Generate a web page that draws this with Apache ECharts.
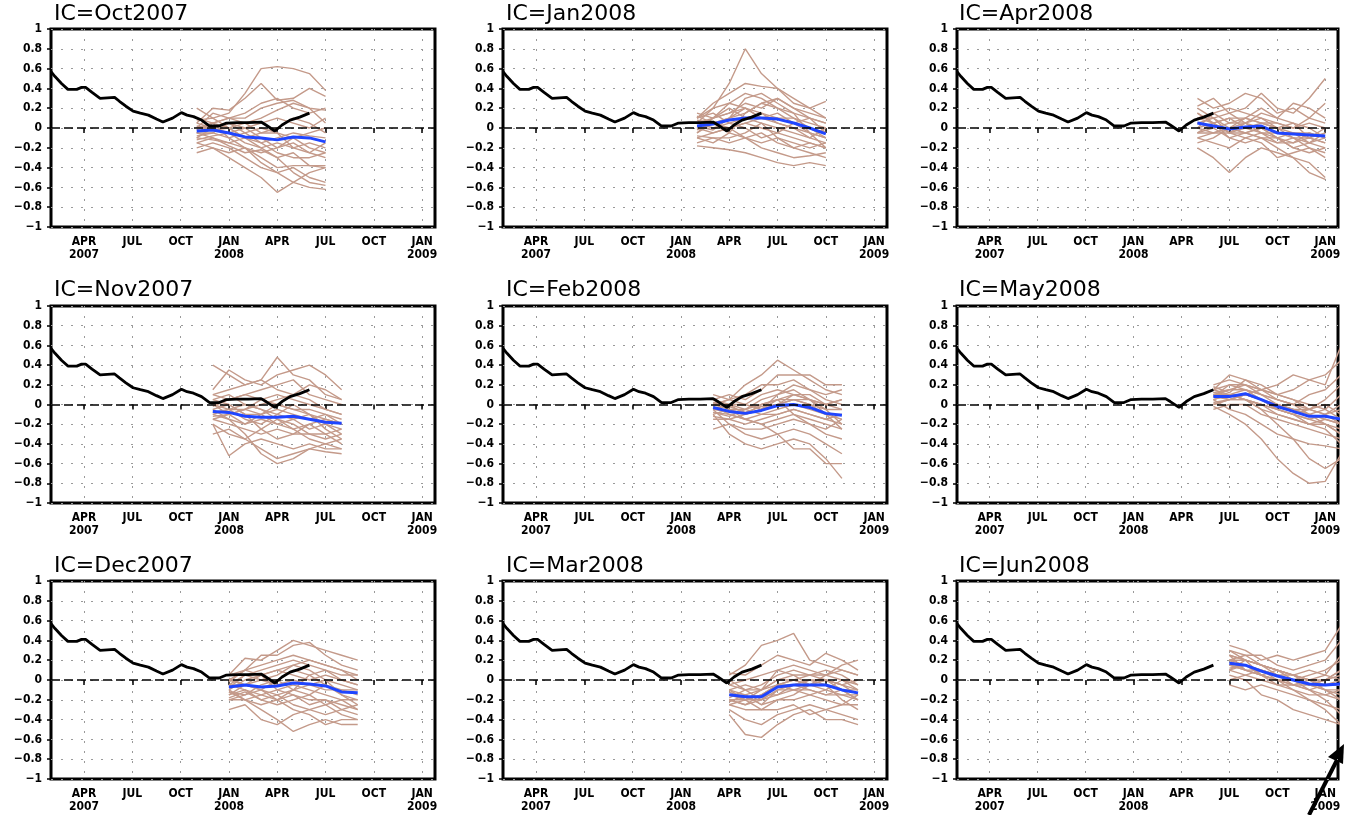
<!DOCTYPE html>
<html>
<head>
<meta charset="utf-8">
<script src="https://cdn.jsdelivr.net/npm/echarts@6/dist/echarts.min.js"></script>
<style>
  html, body { margin: 0; padding: 0; background: #fff; }
  #chart { width: 1345px; height: 815px; }
</style>
</head>
<body>
<div id="chart"></div>
<script>
// month index: 0 = 1 Jan 2007
var xTickMonths = [3, 6, 9, 12, 15, 18, 21, 24]
var xTickLabels = ['APR\n2007', 'JUL', 'OCT', 'JAN\n2008', 'APR', 'JUL', 'OCT', 'JAN\n2009']

// observed index (black)
var obsMonths = [0.95, 1.2, 1.6, 2.0, 2.55, 2.85, 3.1, 3.5, 4.0, 4.9, 5.2, 5.6, 6.05, 6.5, 7.0, 7.5, 7.9, 8.5, 9.05, 9.4, 9.8, 10.3, 10.8, 11.4, 11.85, 12.5, 13.2, 14.0, 14.3, 14.85, 15.3, 15.8, 16.4, 17.0]
var obsValues = [0.57, 0.52, 0.45, 0.39, 0.39, 0.41, 0.41, 0.36, 0.30, 0.31, 0.27, 0.22, 0.17, 0.15, 0.13, 0.09, 0.06, 0.10, 0.155, 0.13, 0.115, 0.08, 0.02, 0.02, 0.05, 0.055, 0.055, 0.06, 0.03, -0.03, 0.03, 0.08, 0.11, 0.15]

// initial conditions, in panel order (column by column)
var icNames = ['Oct2007', 'Nov2007', 'Dec2007', 'Jan2008', 'Feb2008', 'Mar2008', 'Apr2008', 'May2008', 'Jun2008']
var firstLead = [10, 11, 12, 13, 14, 15, 16, 17, 18]

// ensemble means (blue)
var meanOct07 = [-0.03, -0.02, -0.05, -0.09, -0.10, -0.12, -0.09, -0.10, -0.14]
var meanNov07 = [-0.07, -0.08, -0.12, -0.13, -0.13, -0.12, -0.15, -0.18, -0.19]
var meanDec07 = [-0.07, -0.05, -0.07, -0.06, -0.03, -0.04, -0.06, -0.12, -0.13]
var meanJan08 = [0.02, 0.04, 0.08, 0.10, 0.10, 0.09, 0.05, 0.00, -0.06]
var meanFeb08 = [-0.03, -0.07, -0.09, -0.06, -0.01, 0.00, -0.03, -0.09, -0.11]
var meanMar08 = [-0.15, -0.17, -0.17, -0.07, -0.05, -0.05, -0.05, -0.10, -0.13]
var meanApr08 = [0.05, 0.02, -0.01, 0.01, 0.02, -0.05, -0.06, -0.07, -0.08]
var meanMay08 = [0.08, 0.08, 0.11, 0.05, -0.02, -0.07, -0.12, -0.12, -0.15]
var meanJun08 = [0.17, 0.15, 0.09, 0.04, 0.00, -0.04, -0.05, -0.04, -0.03]

// ensemble members (tan)
var ensOct07 = [
  [0.20, 0.10, 0.15, 0.35, 0.60, 0.62, 0.60, 0.55, 0.38],
  [0.05, 0.20, 0.18, 0.30, 0.45, 0.28, 0.30, 0.40, 0.32],
  [0.00, 0.15, 0.10, 0.10, 0.20, 0.25, 0.28, 0.20, 0.18],
  [-0.05, 0.05, 0.10, 0.05, 0.10, 0.18, 0.25, 0.20, 0.05],
  [0.02, -0.02, 0.00, 0.05, -0.05, 0.00, 0.10, 0.05, -0.05],
  [-0.08, -0.05, -0.10, -0.05, -0.15, -0.10, -0.05, -0.08, -0.10],
  [-0.10, 0.00, -0.05, -0.15, -0.20, -0.15, -0.20, -0.15, -0.20],
  [-0.15, -0.10, -0.18, -0.25, -0.22, -0.30, -0.25, -0.38, -0.38],
  [-0.05, -0.10, -0.15, -0.20, -0.30, -0.40, -0.38, -0.38, -0.40],
  [-0.20, -0.15, -0.20, -0.30, -0.40, -0.45, -0.40, -0.50, -0.55],
  [-0.25, -0.20, -0.30, -0.40, -0.50, -0.65, -0.55, -0.60, -0.62],
  [0.08, 0.10, 0.00, -0.10, -0.20, -0.30, -0.45, -0.55, -0.58],
  [-0.12, -0.08, -0.05, 0.00, -0.10, -0.20, -0.15, -0.25, -0.30],
  [0.00, 0.05, -0.10, -0.20, -0.35, -0.45, -0.55, -0.45, -0.40],
  [-0.10, -0.12, -0.15, -0.10, -0.05, -0.05, -0.10, -0.20, -0.25],
  [0.05, 0.00, 0.05, 0.00, 0.05, 0.10, 0.05, 0.00, 0.10],
  [-0.02, 0.05, 0.00, -0.10, -0.15, -0.25, -0.30, -0.30, -0.25],
  [-0.15, -0.20, -0.25, -0.20, -0.25, -0.20, -0.10, -0.05, 0.00],
  [0.10, 0.05, 0.10, 0.15, 0.25, 0.30, 0.20, 0.15, 0.20],
  [-0.05, -0.05, 0.05, -0.05, 0.00, -0.05, -0.20, -0.25, -0.15]
]
var ensNov07 = [
  [0.40, 0.30, 0.20, 0.25, 0.48, 0.30, 0.25, 0.10, 0.05],
  [0.15, 0.35, 0.25, 0.20, 0.30, 0.35, 0.40, 0.30, 0.15],
  [0.10, 0.05, 0.10, 0.15, 0.20, 0.25, 0.10, 0.05, 0.00],
  [0.00, -0.05, -0.05, 0.05, 0.10, 0.05, 0.00, -0.05, -0.10],
  [-0.05, 0.00, -0.10, -0.10, -0.05, -0.10, -0.15, -0.10, -0.20],
  [-0.10, -0.15, -0.20, -0.15, -0.20, -0.15, -0.25, -0.20, -0.25],
  [-0.15, -0.20, -0.25, -0.30, -0.25, -0.30, -0.30, -0.35, -0.30],
  [-0.20, -0.52, -0.40, -0.35, -0.40, -0.45, -0.40, -0.45, -0.45],
  [-0.30, -0.25, -0.35, -0.45, -0.55, -0.50, -0.45, -0.48, -0.50],
  [-0.05, -0.15, -0.30, -0.50, -0.60, -0.55, -0.45, -0.40, -0.45],
  [0.05, 0.10, 0.00, -0.05, -0.15, -0.25, -0.35, -0.40, -0.35],
  [-0.12, -0.10, -0.05, 0.00, 0.05, 0.10, 0.05, -0.05, -0.10],
  [-0.08, -0.05, -0.15, -0.20, -0.10, 0.00, -0.10, -0.25, -0.35],
  [0.05, 0.00, -0.10, -0.25, -0.35, -0.30, -0.20, -0.15, -0.20],
  [-0.02, 0.05, 0.10, 0.05, 0.00, -0.05, -0.10, -0.15, -0.20],
  [-0.15, -0.10, -0.05, -0.10, -0.20, -0.25, -0.20, -0.30, -0.40],
  [0.10, 0.15, 0.20, 0.25, 0.15, 0.10, 0.20, 0.15, 0.05],
  [-0.20, -0.30, -0.35, -0.25, -0.15, -0.20, -0.30, -0.30, -0.25],
  [0.00, -0.10, -0.20, -0.10, 0.00, -0.05, -0.05, -0.10, -0.15],
  [-0.10, -0.05, 0.00, -0.05, -0.10, -0.15, -0.10, -0.20, -0.30]
]
var ensDec07 = [
  [0.05, 0.22, 0.20, 0.30, 0.40, 0.35, 0.30, 0.25, 0.20],
  [0.00, 0.10, 0.25, 0.25, 0.35, 0.38, 0.25, 0.15, 0.10],
  [-0.05, 0.05, 0.10, 0.15, 0.20, 0.15, 0.10, 0.05, 0.05],
  [-0.10, 0.00, 0.05, 0.10, 0.05, 0.00, 0.05, 0.00, -0.05],
  [-0.05, -0.05, 0.00, -0.05, 0.00, -0.05, -0.10, -0.10, -0.10],
  [-0.15, -0.10, -0.15, -0.10, -0.05, -0.10, -0.15, -0.20, -0.20],
  [-0.20, -0.20, -0.25, -0.20, -0.15, -0.20, -0.20, -0.25, -0.30],
  [-0.30, -0.25, -0.40, -0.45, -0.35, -0.30, -0.35, -0.30, -0.35],
  [-0.10, -0.20, -0.30, -0.40, -0.52, -0.45, -0.40, -0.45, -0.45],
  [0.02, -0.05, -0.10, -0.20, -0.30, -0.35, -0.45, -0.40, -0.40],
  [-0.08, 0.05, 0.00, 0.05, 0.15, 0.10, 0.00, -0.15, -0.25],
  [-0.12, -0.15, -0.05, 0.00, -0.10, 0.05, 0.10, 0.00, -0.05],
  [-0.02, 0.10, 0.05, -0.10, -0.15, -0.25, -0.20, -0.30, -0.25],
  [-0.18, -0.12, -0.20, -0.25, -0.20, -0.15, -0.05, -0.15, -0.20],
  [0.00, -0.05, -0.10, -0.15, -0.10, -0.05, 0.00, -0.05, -0.10],
  [-0.15, -0.05, 0.05, 0.10, 0.15, 0.20, 0.15, 0.10, 0.00],
  [-0.05, -0.10, -0.20, -0.15, -0.25, -0.30, -0.25, -0.20, -0.30],
  [-0.20, -0.15, -0.10, 0.00, 0.10, 0.05, -0.05, -0.10, -0.15],
  [0.05, 0.10, 0.15, 0.20, 0.25, 0.20, 0.15, 0.10, 0.05],
  [-0.12, -0.20, -0.15, -0.20, -0.10, -0.15, -0.25, -0.35, -0.40]
]
var ensJan08 = [
  [0.05, 0.20, 0.45, 0.80, 0.55, 0.40, 0.30, 0.20, 0.10],
  [0.10, 0.25, 0.35, 0.45, 0.42, 0.40, 0.25, 0.20, 0.27],
  [0.15, 0.10, 0.25, 0.35, 0.30, 0.20, 0.15, 0.10, 0.05],
  [0.00, 0.10, 0.15, 0.25, 0.20, 0.30, 0.20, 0.15, 0.10],
  [-0.05, 0.05, 0.10, 0.20, 0.10, 0.15, 0.05, 0.00, -0.05],
  [0.05, 0.00, 0.05, 0.10, 0.15, 0.05, 0.00, -0.05, -0.10],
  [-0.10, -0.05, 0.00, 0.05, 0.00, -0.05, -0.10, -0.15, -0.20],
  [-0.15, -0.10, -0.15, -0.10, -0.05, -0.15, -0.20, -0.25, -0.30],
  [-0.18, -0.20, -0.22, -0.25, -0.30, -0.35, -0.38, -0.35, -0.38],
  [0.08, 0.05, -0.05, -0.10, -0.20, -0.25, -0.30, -0.28, -0.25],
  [-0.05, 0.10, 0.20, 0.10, 0.05, -0.10, -0.15, -0.20, -0.15],
  [0.10, 0.15, 0.05, 0.00, -0.10, -0.05, 0.05, 0.10, 0.05],
  [-0.10, -0.15, -0.05, 0.15, 0.25, 0.20, 0.10, 0.00, -0.10],
  [0.02, -0.02, 0.10, 0.30, 0.35, 0.25, 0.15, -0.05, -0.20],
  [0.00, -0.05, 0.00, 0.05, 0.10, 0.10, 0.05, -0.05, -0.10],
  [0.05, 0.10, 0.15, 0.20, 0.15, 0.10, 0.10, 0.05, 0.00],
  [-0.08, -0.10, -0.10, -0.05, 0.05, 0.00, -0.05, -0.10, -0.15],
  [0.12, 0.05, 0.10, 0.15, 0.25, 0.30, 0.20, 0.10, -0.05],
  [-0.02, 0.05, 0.00, -0.10, -0.15, -0.10, -0.20, -0.15, -0.20],
  [0.10, 0.20, 0.25, 0.20, 0.10, 0.05, 0.00, -0.10, 0.00]
]
var ensFeb08 = [
  [0.10, 0.05, 0.20, 0.30, 0.45, 0.35, 0.25, 0.15, 0.10],
  [0.05, 0.10, 0.05, 0.15, 0.30, 0.30, 0.30, 0.20, 0.20],
  [0.00, 0.05, 0.10, 0.20, 0.20, 0.25, 0.15, 0.10, 0.15],
  [-0.05, 0.00, 0.00, 0.10, 0.15, 0.10, 0.05, 0.00, 0.05],
  [-0.10, -0.05, -0.10, 0.00, 0.05, 0.05, 0.00, -0.05, -0.05],
  [-0.02, -0.10, -0.15, -0.10, -0.05, 0.00, -0.05, -0.10, -0.10],
  [-0.15, -0.15, -0.20, -0.15, -0.10, -0.05, -0.10, -0.15, -0.20],
  [-0.05, -0.20, -0.25, -0.25, -0.20, -0.15, -0.20, -0.25, -0.15],
  [-0.25, -0.20, -0.30, -0.35, -0.30, -0.25, -0.30, -0.40, -0.50],
  [-0.10, -0.30, -0.40, -0.45, -0.40, -0.35, -0.40, -0.55, -0.75],
  [0.05, -0.05, -0.15, -0.20, -0.30, -0.45, -0.45, -0.60, -0.60],
  [0.00, 0.05, 0.00, -0.05, 0.10, 0.20, 0.15, 0.05, 0.00],
  [-0.08, -0.12, -0.05, 0.00, 0.05, -0.10, -0.20, -0.30, -0.35],
  [0.02, 0.00, -0.10, -0.05, 0.00, 0.10, 0.05, -0.05, -0.20],
  [-0.05, -0.08, -0.10, -0.05, 0.00, 0.05, 0.00, -0.10, -0.15],
  [0.00, -0.05, -0.05, -0.10, -0.10, -0.05, -0.10, -0.15, -0.10],
  [-0.12, -0.15, -0.10, -0.05, 0.05, 0.10, 0.10, 0.00, -0.05],
  [0.05, 0.00, -0.05, 0.05, 0.10, 0.15, 0.05, -0.10, -0.25],
  [-0.08, -0.10, -0.15, -0.20, -0.15, -0.10, -0.15, -0.20, -0.25],
  [0.00, -0.02, -0.08, -0.02, 0.00, 0.05, 0.05, 0.00, 0.05]
]
var ensMar08 = [
  [0.05, 0.15, 0.35, 0.40, 0.47, 0.20, 0.15, 0.10, 0.05],
  [0.07, 0.05, 0.15, 0.25, 0.20, 0.15, 0.27, 0.20, 0.10],
  [-0.05, 0.00, 0.05, 0.10, 0.15, 0.10, 0.05, 0.15, 0.20],
  [-0.10, -0.05, -0.10, 0.00, 0.05, 0.05, 0.00, -0.05, 0.00],
  [-0.15, -0.20, -0.15, -0.05, 0.00, -0.05, -0.05, -0.10, -0.10],
  [-0.20, -0.25, -0.20, -0.15, -0.10, -0.10, -0.15, -0.15, -0.20],
  [-0.25, -0.30, -0.30, -0.20, -0.20, -0.15, -0.20, -0.25, -0.25],
  [-0.30, -0.40, -0.45, -0.35, -0.30, -0.25, -0.30, -0.35, -0.40],
  [-0.35, -0.55, -0.58, -0.45, -0.35, -0.30, -0.40, -0.40, -0.45],
  [-0.10, -0.20, -0.30, -0.30, -0.25, -0.35, -0.30, -0.25, -0.15],
  [-0.18, -0.10, -0.05, 0.05, 0.10, 0.05, 0.10, 0.05, -0.05],
  [-0.22, -0.15, -0.25, -0.10, -0.05, 0.00, -0.05, -0.20, -0.30],
  [0.00, -0.10, -0.20, -0.05, -0.10, -0.15, -0.10, 0.00, -0.10],
  [-0.12, -0.20, -0.10, 0.10, 0.05, -0.05, 0.00, -0.10, -0.20],
  [-0.15, -0.15, -0.10, -0.05, -0.05, 0.00, 0.00, -0.05, -0.10],
  [-0.20, -0.20, -0.20, -0.10, -0.10, -0.05, -0.10, -0.15, -0.15],
  [-0.05, -0.10, -0.10, 0.00, 0.00, -0.05, 0.05, 0.00, -0.05],
  [-0.25, -0.20, -0.15, -0.15, -0.05, -0.10, -0.15, -0.10, -0.20],
  [-0.10, -0.15, -0.25, -0.20, -0.15, -0.05, 0.00, -0.05, -0.15],
  [-0.20, -0.25, -0.15, -0.05, 0.00, 0.05, 0.05, 0.10, 0.05]
]
var ensApr08 = [
  [0.22, 0.30, 0.15, 0.20, 0.35, 0.20, 0.15, 0.30, 0.50],
  [0.30, 0.20, 0.25, 0.35, 0.30, 0.15, 0.20, 0.10, 0.25],
  [0.10, 0.15, 0.05, 0.10, 0.20, 0.10, 0.25, 0.20, 0.10],
  [0.05, 0.10, 0.15, 0.05, 0.10, 0.05, 0.00, 0.10, 0.05],
  [0.00, -0.05, 0.00, 0.10, 0.05, 0.00, -0.05, -0.10, -0.15],
  [-0.05, 0.00, -0.10, -0.05, 0.00, -0.10, -0.15, -0.05, -0.10],
  [-0.10, -0.15, -0.20, -0.10, -0.05, -0.10, -0.20, -0.25, -0.20],
  [-0.20, -0.30, -0.45, -0.30, -0.20, -0.25, -0.30, -0.35, -0.50],
  [0.15, 0.05, -0.10, -0.15, -0.10, -0.20, -0.30, -0.45, -0.52],
  [-0.15, -0.10, 0.00, 0.05, -0.05, -0.15, -0.10, -0.20, -0.25],
  [0.10, 0.05, 0.10, 0.00, -0.05, -0.05, -0.10, -0.15, -0.05],
  [-0.05, 0.05, -0.05, -0.10, -0.15, -0.30, -0.25, -0.20, -0.30],
  [0.20, 0.10, -0.05, 0.05, 0.15, 0.10, 0.05, 0.00, -0.10],
  [0.00, 0.15, 0.20, 0.15, 0.10, 0.00, 0.05, -0.10, 0.00],
  [0.05, 0.00, 0.05, 0.05, 0.00, -0.05, -0.05, -0.05, -0.10],
  [-0.05, -0.05, -0.05, 0.00, 0.05, 0.00, -0.10, -0.10, -0.05],
  [0.10, 0.10, 0.00, -0.05, 0.00, -0.10, -0.05, -0.15, -0.20],
  [0.00, 0.05, 0.10, 0.10, 0.05, 0.05, 0.00, 0.05, 0.00],
  [0.15, 0.05, -0.05, -0.05, -0.10, -0.15, -0.15, -0.10, -0.15],
  [-0.10, -0.05, 0.00, -0.05, -0.10, -0.10, -0.20, -0.15, -0.10]
]
var ensMay08 = [
  [0.20, 0.25, 0.20, 0.15, 0.20, 0.30, 0.25, 0.20, 0.60],
  [0.15, 0.30, 0.25, 0.20, 0.10, 0.15, 0.25, 0.30, 0.45],
  [0.10, 0.15, 0.20, 0.10, 0.05, 0.00, 0.10, 0.15, 0.30],
  [0.05, 0.10, 0.15, 0.10, 0.00, -0.05, -0.05, 0.05, 0.20],
  [0.10, 0.05, 0.10, 0.05, -0.05, -0.10, -0.15, -0.10, 0.00],
  [0.00, 0.05, 0.05, 0.00, -0.10, -0.15, -0.20, -0.15, -0.20],
  [-0.05, 0.00, 0.00, -0.10, -0.15, -0.20, -0.25, -0.30, -0.35],
  [0.05, -0.05, -0.10, -0.20, -0.30, -0.35, -0.40, -0.42, -0.45],
  [-0.02, -0.10, -0.20, -0.35, -0.55, -0.70, -0.80, -0.78, -0.50],
  [0.12, 0.10, 0.05, -0.05, -0.20, -0.35, -0.55, -0.65, -0.55],
  [0.08, 0.20, 0.15, 0.05, -0.05, -0.10, -0.05, 0.00, -0.10],
  [0.15, 0.10, 0.05, 0.00, -0.05, -0.10, -0.20, -0.25, -0.40],
  [0.00, 0.05, 0.10, 0.15, 0.05, 0.00, -0.10, -0.20, -0.30],
  [0.18, 0.12, 0.25, 0.15, 0.10, 0.05, 0.00, -0.05, 0.10],
  [0.10, 0.10, 0.10, 0.05, 0.00, -0.05, -0.10, -0.15, -0.20],
  [0.05, 0.10, 0.05, 0.00, -0.05, -0.10, -0.15, -0.20, -0.25],
  [0.12, 0.15, 0.15, 0.10, 0.05, 0.00, -0.05, -0.10, -0.05],
  [0.02, 0.05, 0.10, 0.05, 0.00, -0.05, -0.10, -0.05, -0.15],
  [0.08, 0.05, 0.05, -0.05, -0.10, -0.15, -0.20, -0.20, -0.30],
  [0.15, 0.20, 0.20, 0.15, 0.10, 0.05, -0.05, -0.10, -0.20]
]
var ensJun08 = [
  [0.35, 0.30, 0.20, 0.25, 0.20, 0.25, 0.30, 0.55, 0.60],
  [0.30, 0.25, 0.25, 0.15, 0.10, 0.15, 0.20, 0.40, 0.50],
  [0.25, 0.20, 0.15, 0.10, 0.05, 0.10, 0.05, 0.25, 0.30],
  [0.20, 0.15, 0.10, 0.05, 0.00, -0.05, 0.00, 0.10, 0.20],
  [0.15, 0.10, 0.05, 0.00, -0.05, -0.10, -0.05, -0.05, 0.00],
  [0.10, 0.05, 0.00, -0.05, -0.10, -0.15, -0.15, -0.10, -0.15],
  [-0.05, -0.10, -0.05, -0.10, -0.15, -0.20, -0.25, -0.30, -0.30],
  [0.05, 0.00, -0.15, -0.20, -0.30, -0.35, -0.40, -0.45, -0.50],
  [0.12, 0.15, 0.10, 0.00, -0.10, -0.20, -0.30, -0.45, -0.45],
  [0.20, 0.25, 0.15, 0.10, 0.05, 0.00, -0.10, -0.20, -0.25],
  [0.00, 0.05, 0.10, 0.05, 0.00, 0.05, 0.10, 0.20, 0.35],
  [0.25, 0.10, 0.05, 0.10, 0.05, -0.05, -0.10, -0.15, -0.10],
  [0.10, 0.20, 0.15, 0.05, -0.05, 0.00, 0.05, 0.00, 0.10],
  [0.30, 0.20, 0.05, -0.05, -0.05, -0.10, -0.20, -0.35, -0.40],
  [0.15, 0.15, 0.10, 0.05, 0.00, -0.05, -0.05, -0.05, -0.05],
  [0.20, 0.10, 0.10, 0.05, 0.05, 0.00, -0.05, 0.00, 0.05],
  [0.10, 0.15, 0.05, 0.00, -0.05, -0.05, -0.10, -0.10, -0.20],
  [0.25, 0.20, 0.15, 0.10, 0.05, 0.00, 0.00, 0.05, 0.15],
  [0.15, 0.10, 0.05, 0.00, 0.00, -0.10, -0.15, -0.20, -0.30],
  [0.20, 0.20, 0.15, 0.10, 0.00, -0.05, 0.00, 0.10, 0.00]
]

var means = [meanOct07, meanNov07, meanDec07, meanJan08, meanFeb08, meanMar08, meanApr08, meanMay08, meanJun08]
var members = [ensOct07, ensNov07, ensDec07, ensJan08, ensFeb08, ensMar08, ensApr08, ensMay08, ensJun08]

// layout of the 3x3 panels
var colLeft = [51, 503, 957]
var colWidth = [384, 384, 381]
var rowTop = [29, 306, 581]
var rowHeight = [198, 197, 198]
var titleLeft = [54, 506, 959]
var titleTop = [3, 279, 555]

var tan = '#c49a8a'
var blue = '#1f45ff'
var axisFont = 'DejaVu Sans Condensed, Liberation Sans Narrow, DejaVu Sans, sans-serif'

function lead(start, arr) {
  return arr.map(function (v, k) { return [start + k, v] })
}

var chart = echarts.init(document.getElementById('chart'))
var grids = [], xAxes = [], yAxes = [], titles = [], series = []

icNames.forEach(function (ic, i) {
  var col = Math.floor(i / 3), row = i % 3
  grids.push({
    left: colLeft[col], top: rowTop[row], width: colWidth[col], height: rowHeight[row],
    show: true, borderColor: '#000', borderWidth: 3, backgroundColor: '#fff'
  })
  titles.push({
    text: 'IC=' + ic, left: titleLeft[col], top: titleTop[row], padding: 0,
    textStyle: { fontFamily: 'DejaVu Sans', fontSize: 22, fontWeight: 'normal', color: '#000' }
  })
  xAxes.push({
    type: 'value', gridIndex: i, min: 0.95, max: 24.8,
    axisLine: { show: false },
    axisTick: { show: true, customValues: xTickMonths, length: 5, lineStyle: { color: '#000', width: 1.5 } },
    axisLabel: {
      show: true, customValues: xTickMonths, margin: 8,
      fontFamily: axisFont, fontSize: 12, fontWeight: 'bold', color: '#000', lineHeight: 13,
      formatter: function (v) {
        var k = xTickMonths.indexOf(Math.round(v))
        return k >= 0 ? xTickLabels[k] : ''
      }
    },
    splitLine: { show: true, lineStyle: { color: '#9a9a9a', type: [2, 8], width: 1 } }
  })
  yAxes.push({
    type: 'value', gridIndex: i, min: -1, max: 1, interval: 0.2,
    axisLine: { show: false },
    axisTick: { show: true, length: 4, lineStyle: { color: '#000', width: 1.5 } },
    axisLabel: {
      margin: 9, fontFamily: axisFont, fontSize: 12, fontWeight: 'bold', color: '#000',
      formatter: function (v) {
        var r = Math.round(v * 10) / 10
        return r < 0 ? '\u2212' + String(-r) : String(r)
      }
    },
    splitLine: { show: true, lineStyle: { color: '#9a9a9a', type: [2, 8], width: 1 } }
  })

  members[i].forEach(function (m) {
    series.push({
      type: 'line', xAxisIndex: i, yAxisIndex: i, data: lead(firstLead[i], m),
      showSymbol: false, silent: true, z: 2, animation: false,
      lineStyle: { color: tan, width: 1.4 }
    })
  })
  series.push({
    type: 'line', xAxisIndex: i, yAxisIndex: i, data: lead(firstLead[i], means[i]),
    showSymbol: false, silent: true, z: 4, animation: false,
    lineStyle: { color: blue, width: 3 }
  })
  series.push({
    type: 'line', xAxisIndex: i, yAxisIndex: i,
    data: obsMonths.map(function (m, k) { return [m, obsValues[k]] }),
    showSymbol: false, silent: true, z: 5, animation: false,
    lineStyle: { color: '#000', width: 2.8 },
    markLine: {
      silent: true, symbol: 'none', animation: false, label: { show: false },
      lineStyle: { color: '#000', type: [9, 4], width: 1.5 },
      data: [{ yAxis: 0 }]
    }
  })
})

chart.setOption({
  backgroundColor: '#fff',
  animation: false,
  title: titles,
  grid: grids,
  xAxis: xAxes,
  yAxis: yAxes,
  series: series,
  graphic: [
    { type: 'line', shape: { x1: 1309, y1: 815, x2: 1337, y2: 760 }, style: { stroke: '#000', lineWidth: 4 } },
    { type: 'polygon', shape: { points: [[1344, 744], [1328, 757], [1343, 764]] }, style: { fill: '#000' } }
  ]
})
</script>
</body>
</html>
